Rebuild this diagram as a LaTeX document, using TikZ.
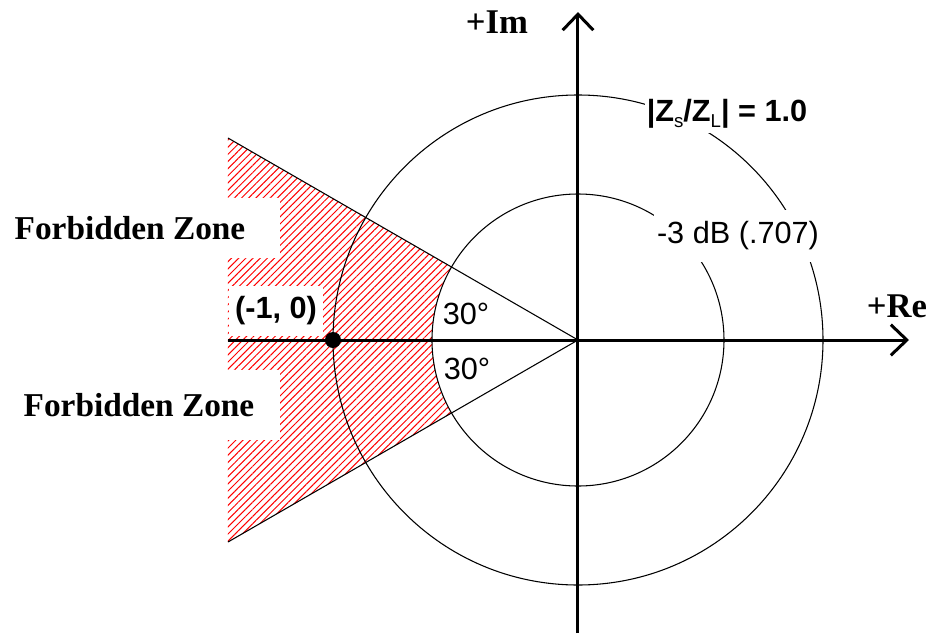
\documentclass[tikz,border=0pt]{standalone}
\usepackage{fontspec}
\setmainfont{Liberation Serif}
\setsansfont{Liberation Sans}
\usetikzlibrary{arrows.meta,patterns.meta}
\definecolor{ZONE-RED}{RGB}{255, 0, 0}

\tikzset{
  axisline/.style={line width=2.25pt, -{Straight Barb[length=12pt,width=23pt]}},
  thinline/.style={line width=0.8pt},
  axislabel/.style={font=\fontsize{26}{30}\selectfont\bfseries},
  zonelabel/.style={font=\fontsize{25}{30}\selectfont\bfseries, fill=white, inner sep=0pt},
  sanslabel/.style={font=\sffamily\fontsize{23}{27}\selectfont},
}

\begin{document}
\begin{tikzpicture}[x=0.75pt,y=0.75pt]
  \useasboundingbox (-578,-293) rectangle (357,340);
  \coordinate (O) at (0,0);
  \coordinate (wedgeTop) at (-350,202);
  \coordinate (wedgeBot) at (-350,-202);

  % Forbidden zone (hatched, up to the -3 dB circle)
  \fill[pattern={Lines[angle=45,distance=3.8pt,line width=0.75pt]}, pattern color=ZONE-RED]
    (wedgeTop) -- (150:146) arc[start angle=150, end angle=210, radius=146]
    -- (wedgeBot) -- cycle;
  \node[zonelabel, minimum width=225pt, minimum height=45pt] (zoneUp) at (-448,112) {Forbidden Zone};
  \node[zonelabel, minimum width=211.5pt, minimum height=52.5pt] (zoneDown) at (-439,-65) {Forbidden Zone};

  % Circles |Zs/ZL| = 1.0 and -3 dB
  \draw[thinline] (O) circle[radius=245];
  \draw[thinline] (O) circle[radius=146];

  % 30 degree wedge
  \draw[thinline] (O) -- (wedgeTop);
  \draw[thinline] (O) -- (wedgeBot);

  % Axes
  \coordinate (reStart) at (-350,0);
  \coordinate (reTip) at (331,0);
  \coordinate (imStart) at (0,-293);
  \coordinate (imTip) at (0,328);
  \draw[axisline] (reStart) -- (reTip);
  \draw[axisline] (imStart) -- (imTip);
  \node[axislabel] (reLabel) at (319,34) {+Re};
  \node[axislabel] (imLabel) at (-81,318) {+Im};

  % Labels
  \node[sanslabel, font=\sffamily\fontsize{23}{27}\selectfont\bfseries, fill=white,
        inner sep=0pt, minimum width=71pt, minimum height=37.5pt] (minusOne) at (-302,29) {(-1, 0)};
  \node[sanslabel] (angUp) at (-112,26) {30°};
  \node[sanslabel] (angDown) at (-111,-29) {30°};
  \node[sanslabel, fill=white, inner xsep=1.5pt, inner ysep=0pt, minimum height=28.5pt] (unityLabel) at (149,226)
    {\textbf{|Z}\raisebox{-0.35ex}{\fontsize{14}{14}\selectfont s}\textbf{/Z}\raisebox{-0.35ex}{\fontsize{14}{14}\selectfont L}\textbf{| = 1.0}};
  \node[sanslabel, fill=white, inner xsep=2pt, inner ysep=0pt, minimum height=39pt] (dbLabel) at (160,104) {-3 dB (.707)};

  % Point (-1, 0)
  \fill (-245,0) circle[radius=8];
\end{tikzpicture}
\end{document}
